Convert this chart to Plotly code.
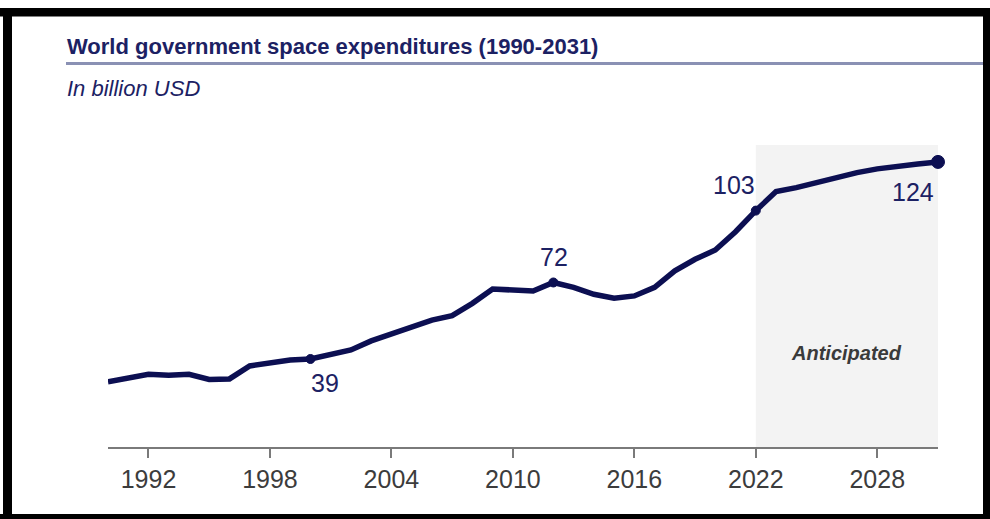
import plotly.graph_objects as go

years = list(range(1990, 2032))
spend = [29.2, 30.6, 32.4, 32.0, 32.4, 30.2, 30.4, 36.0, 37.1, 38.6,
         39.0, 40.7, 42.9, 46.8, 49.7, 52.5, 55.8, 57.7, 63.0, 69.2,
         68.8, 68.3, 72.0, 69.9, 66.9, 65.2, 66.2, 69.9, 77.0, 82.0,
         86.0, 93.9, 103.0, 111.2, 112.9, 115.1, 117.2, 119.4, 121.0, 122.3,
         123.1, 124.0]
label_years = [2000, 2012, 2022, 2031]
label_text = ["39", "72", "103", "124"]
tick_years = [1992, 1998, 2004, 2010, 2016, 2022, 2028]
forecast_start = 2022
forecast_end = 2031

NAVY = "#0c0f52"
TXT = "#1c2163"

W, H = 990, 519
L, R, T, B = 108, 938, 145, 447


def px(x):
    return (x - L) / (R - L)


def py(y):
    return (B - y) / (B - T)


fig = go.Figure()

fig.add_trace(go.Scatter(x=years, y=spend, mode="lines",
                         line=dict(color=NAVY, width=5.5), hoverinfo="skip",
                         showlegend=False, cliponaxis=False))

lv = [spend[years.index(y)] for y in label_years]
fig.add_trace(go.Scatter(x=label_years, y=lv, mode="markers",
                         marker=dict(color=NAVY, size=[9, 9, 9, 13], opacity=1,
                                     line=dict(color=NAVY, width=1)),
                         hoverinfo="skip", showlegend=False, cliponaxis=False))

shifts = [(15, -24), (1, 25), (-22, 26), (-25, -30)]
for yr, v, t, (dx, dy) in zip(label_years, lv, label_text, shifts):
    fig.add_annotation(x=yr, y=v, text=t, showarrow=False, xshift=dx, yshift=dy,
                       font=dict(family="Liberation Sans, Arial", size=25, color=TXT))

shapes = [
    dict(type="rect", xref="x", yref="paper", x0=forecast_start, x1=forecast_end,
         y0=0, y1=1, fillcolor="#f3f3f3", line=dict(width=0), layer="below"),
    # header rule
    dict(type="line", xref="paper", yref="paper", x0=px(66), x1=px(985),
         y0=py(63.5), y1=py(63.5), line=dict(color="#8a91b4", width=3)),
    # black frame
    dict(type="rect", xref="paper", yref="paper", x0=px(0), x1=px(995),
         y0=py(8), y1=py(16.5), fillcolor="black", line=dict(width=0)),
    dict(type="rect", xref="paper", yref="paper", x0=px(3), x1=px(12),
         y0=py(8), y1=py(525), fillcolor="black", line=dict(width=0)),
    dict(type="rect", xref="paper", yref="paper", x0=px(0), x1=px(995),
         y0=py(514), y1=py(525), fillcolor="black", line=dict(width=0)),
    dict(type="rect", xref="paper", yref="paper", x0=px(983), x1=px(995),
         y0=py(8), y1=py(525), fillcolor="black", line=dict(width=0)),
]

fig.add_annotation(xref="paper", yref="paper", x=px(65), y=py(46), xanchor="left",
                   yanchor="middle", showarrow=False,
                   text="<b>World government space expenditures (1990-2031)</b>",
                   font=dict(family="Liberation Sans, Arial", size=22, color=TXT))
fig.add_annotation(xref="paper", yref="paper", x=px(65), y=py(88), xanchor="left",
                   yanchor="middle", showarrow=False, text="<i>In billion USD</i>",
                   font=dict(family="Liberation Sans, Arial", size=22, color=TXT))
fig.add_annotation(x=(forecast_start + forecast_end) / 2, xref="x", yref="paper",
                   y=py(353), yanchor="middle", showarrow=False,
                   text="<b><i>Anticipated</i></b>",
                   font=dict(family="Liberation Sans, Arial", size=20, color="#3a3a3a"))

fig.update_layout(
    width=W, height=H,
    margin=dict(l=L, r=W - R, t=T, b=H - B, pad=0),
    paper_bgcolor="white", plot_bgcolor="rgba(0,0,0,0)",
    shapes=shapes,
    xaxis=dict(range=[1990, 2031], tickvals=tick_years, showgrid=False,
               zeroline=False, showline=True, linecolor="#7a7a7a", linewidth=2,
               ticks="outside", ticklen=9, tickwidth=2, tickcolor="#7a7a7a",
               tickfont=dict(family="Liberation Sans, Arial", size=25, color="#3c3c3c")),
    yaxis=dict(range=[1.04, 131.3], showgrid=False, zeroline=False,
               showticklabels=False, showline=False),
)

fig.write_html("out.html")
